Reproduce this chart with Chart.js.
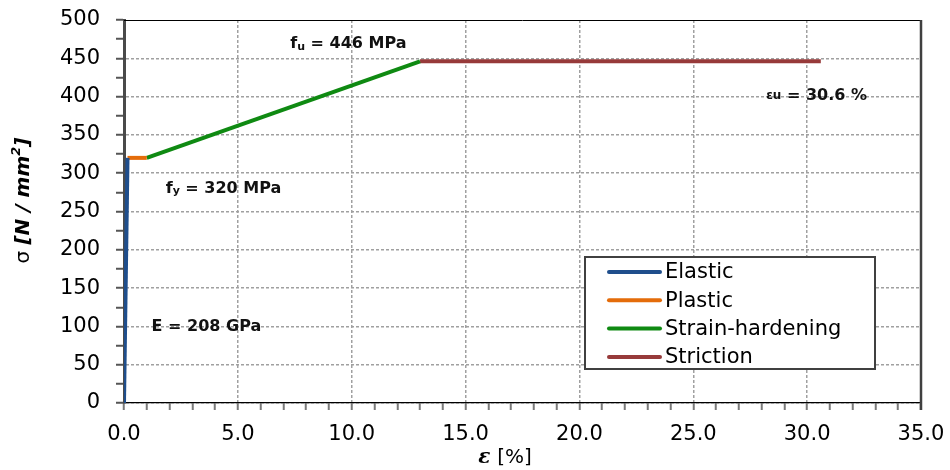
<!DOCTYPE html>
<html>
<head>
<meta charset="utf-8">
<script src="https://cdn.jsdelivr.net/npm/chart.js@4.4.1/dist/chart.umd.min.js"></script>
<style>
  html, body { margin: 0; padding: 0; background: #fff; }
</style>
</head>
<body>
<canvas id="myChart" width="950" height="470"></canvas>
<script>
// stress-strain branches, strain in %, stress in N/mm2
const seriesNames = ["Elastic", "Plastic", "Strain-hardening", "Striction"];
const elasticStrain = [0, 0.154];
const elasticStress = [0, 320];
const plasticStrain = [0.154, 1.0];
const plasticStress = [320, 320];
const hardeningStrain = [1.0, 13.0];
const hardeningStress = [320, 446];
const strictionStrain = [13.0, 30.6];
const strictionStress = [446, 446];
const lineColors = ["#1f4e8c", "#e46c0a", "#0f8a12", "#973a3a"];

const toPoints = (xs, ys) => xs.map((x, i) => ({ x: x, y: ys[i] }));

const strains = [elasticStrain, plasticStrain, hardeningStrain, strictionStrain];
const stresses = [elasticStress, plasticStress, hardeningStress, strictionStress];

let datasets = [];
for (let i = 0; i < seriesNames.length; i++) {
  datasets.push({
    label: seriesNames[i],
    data: toPoints(strains[i], stresses[i]),
    borderColor: lineColors[i],
    backgroundColor: lineColors[i],
    borderWidth: 4,
    pointRadius: 0,
    tension: 0,
    borderCapStyle: "butt"
  });
}

// draw a run of text pieces left to right (for subscripts / mixed fonts)
function drawRuns(ctx, x, y, runs) {
  let cx = x;
  for (const r of runs) {
    ctx.font = r.font;
    ctx.fillText(r.text, cx, y + (r.dy || 0));
    cx += ctx.measureText(r.text).width;
  }
  return cx - x;
}

const B = "bold 16px 'DejaVu Sans'";
const Bs = "bold 11px 'DejaVu Sans'";

const extras = {
  id: "extras",
  afterDraw(chart) {
    const ctx = chart.ctx;
    const a = chart.chartArea;
    const xs = chart.scales.x;
    const ys = chart.scales.y;
    ctx.save();

    // top and right frame
    ctx.strokeStyle = "#000";
    ctx.lineWidth = 1;
    ctx.beginPath();
    ctx.moveTo(a.left, a.top + 0.5);
    ctx.lineTo(a.right, a.top + 0.5);
    ctx.stroke();
    ctx.strokeStyle = "#404040";
    ctx.lineWidth = 2.5;
    ctx.beginPath();
    ctx.moveTo(a.right, a.top);
    ctx.lineTo(a.right, a.bottom + 7);
    ctx.stroke();

    // annotations
    ctx.fillStyle = "#111";
    ctx.textBaseline = "middle";
    ctx.textAlign = "left";
    drawRuns(ctx, xs.getPixelForValue(7.3), ys.getPixelForValue(469), [
      { text: "f", font: B }, { text: "u", font: Bs, dy: 3 }, { text: " = 446 MPa", font: B }
    ]);
    drawRuns(ctx, xs.getPixelForValue(1.83), ys.getPixelForValue(280), [
      { text: "f", font: B }, { text: "y", font: Bs, dy: 3 }, { text: " = 320 MPa", font: B }
    ]);
    drawRuns(ctx, xs.getPixelForValue(1.21), ys.getPixelForValue(99), [
      { text: "E = 208 GPa", font: B }
    ]);
    drawRuns(ctx, xs.getPixelForValue(28.2), ys.getPixelForValue(401), [
      { text: "\u03b5", font: "bold 12px 'DejaVu Sans'" }, { text: "u", font: "bold 12px 'DejaVu Sans'" },
      { text: " = 30.6 %", font: B }
    ]);

    // legend box inside plot
    const lx = 585, ly = 257, lw = 290, lh = 112;
    ctx.fillStyle = "#fff";
    ctx.fillRect(lx, ly, lw, lh);
    ctx.strokeStyle = "#404040";
    ctx.lineWidth = 2;
    ctx.strokeRect(lx, ly, lw, lh);
    chart.data.datasets.forEach((ds, i) => {
      const yy = 272 + i * 28.3;
      ctx.strokeStyle = ds.borderColor;
      ctx.lineWidth = 4;
      ctx.lineCap = "round";
      ctx.beginPath();
      ctx.moveTo(609, yy);
      ctx.lineTo(660, yy);
      ctx.stroke();
      ctx.fillStyle = "#000";
      ctx.font = "21px 'DejaVu Sans'";
      ctx.fillText(ds.label, 665, yy + 1);
    });

    // x axis title
    ctx.fillStyle = "#000";
    ctx.textBaseline = "middle";
    const xw = (() => {
      ctx.font = "bold italic 20px 'DejaVu Serif'";
      let w = ctx.measureText("\u03b5 ").width;
      ctx.font = "20px 'DejaVu Sans'";
      return w + ctx.measureText("[%]").width;
    })();
    drawRuns(ctx, 505 - xw / 2, 458, [
      { text: "\u03b5 ", font: "bold italic 20px 'DejaVu Serif'" },
      { text: "[%]", font: "20px 'DejaVu Sans'" }
    ]);

    // y axis title, rotated
    ctx.translate(24, 196);
    ctx.rotate(-Math.PI / 2);
    const r1 = "20px 'DejaVu Sans'";
    const r2 = "bold italic 20px 'DejaVu Sans'";
    ctx.font = r1;
    let tw = ctx.measureText("\u03c3 ").width;
    ctx.font = r2;
    tw += ctx.measureText("[N / mm]").width;
    ctx.font = "bold italic 13px 'DejaVu Sans'";
    tw += ctx.measureText("2").width;
    ctx.font = r2;
    tw += ctx.measureText("]").width;
    drawRuns(ctx, -tw / 2, 0, [
      { text: "\u03c3 ", font: r1 },
      { text: "[N / mm", font: r2 },
      { text: "2", font: "bold italic 13px 'DejaVu Sans'", dy: -7 },
      { text: "]", font: r2 }
    ]);

    ctx.restore();
  }
};

new Chart("myChart", {
  type: "line",
  data: { datasets: datasets },
  plugins: [extras],
  options: {
    responsive: false,
    animation: false,
    parsing: true,
    layout: { padding: { top: 20, right: 29, left: 0, bottom: 0 } },
    plugins: {
      legend: { display: false },
      tooltip: { enabled: false }
    },
    scales: {
      x: {
        type: "linear",
        min: 0,
        max: 35,
        afterFit: (s) => { s.height = 67; s.paddingLeft = 0; s.paddingRight = 0; },
        ticks: {
          stepSize: 1,
          autoSkip: false,
          maxRotation: 0,
          padding: 12,
          color: "#000",
          font: { family: "DejaVu Sans", size: 21 },
          callback: (v) => (v % 5 === 0 ? v.toFixed(1) : "")
        },
        grid: {
          color: (c) => (c.tick && c.tick.value % 5 === 0 ? "#a0a0a0" : "rgba(0,0,0,0)"),
          lineWidth: 1.5,
          tickColor: "#7a7a7a",
          tickLength: 7,
          tickWidth: 2
        },
        border: { color: "#000", width: 1.2, dash: [3, 2] }
      },
      y: {
        min: 0,
        max: 500,
        afterFit: (s) => { s.width = 124; s.paddingTop = 0; s.paddingBottom = 0; },
        ticks: {
          stepSize: 25,
          autoSkip: false,
          padding: 16,
          color: "#000",
          font: { family: "DejaVu Sans", size: 21 },
          callback: (v) => (v % 50 === 0 ? v : "")
        },
        grid: {
          color: (c) => (c.tick && c.tick.value % 50 === 0 && c.tick.value !== 500 ? "#a0a0a0" : "rgba(0,0,0,0)"),
          lineWidth: 1.5,
          tickColor: "#555",
          tickLength: 8,
          tickWidth: 2
        },
        border: { color: "#4a4a4a", width: 3, dash: [3, 2] }
      }
    }
  }
});
</script>
</body>
</html>
